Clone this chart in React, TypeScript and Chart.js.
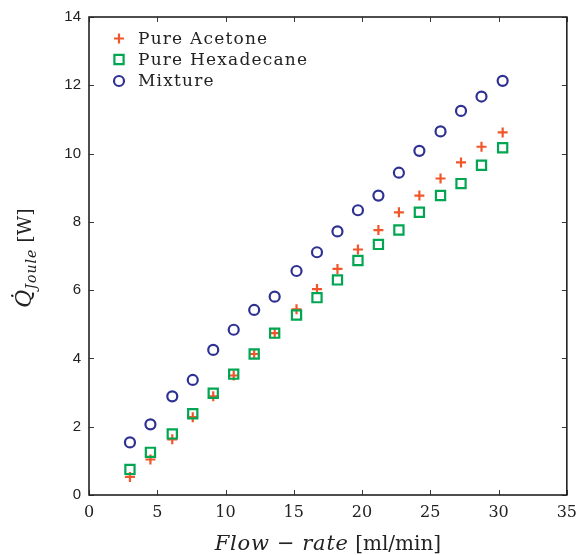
import React, { useEffect, useRef } from 'react';
import { Chart, registerables } from 'chart.js';

Chart.register(...registerables);

// ---- data ----
const flowRate = [3.0, 4.5, 6.1, 7.6, 9.1, 10.6, 12.1, 13.6, 15.2, 16.7, 18.2, 19.7, 21.2, 22.7, 24.2, 25.75, 27.25, 28.75, 30.3];
const acetone = [0.53, 1.04, 1.63, 2.28, 2.89, 3.5, 4.13, 4.74, 5.44, 6.03, 6.62, 7.19, 7.76, 8.28, 8.77, 9.27, 9.74, 10.2, 10.62];
const hexadecane = [0.75, 1.25, 1.79, 2.38, 2.98, 3.54, 4.13, 4.74, 5.27, 5.78, 6.3, 6.87, 7.34, 7.76, 8.28, 8.77, 9.12, 9.66, 10.17];
const mixture = [1.54, 2.07, 2.89, 3.37, 4.25, 4.84, 5.42, 5.81, 6.56, 7.11, 7.72, 8.34, 8.77, 9.44, 10.08, 10.65, 11.25, 11.67, 12.13];
const seriesLabels = ['Pure Acetone', 'Pure Hexadecane', 'Mixture'];
const xRange = [0, 35];
const xStep = 5;
const yRange = [0, 14];
const yStep = 2;

const ORANGE = '#F0562A';
const GREEN = '#00A651';
const NAVY = '#2E3192';

const SERIF = '"DejaVu Serif", "Liberation Serif", serif';

function toPoints(ys: number[]) {
  return ys.map((y, i) => ({ x: flowRate[i], y }));
}

function drawMarker(ctx: CanvasRenderingContext2D, style: string, x: number, y: number, r: number, color: string, lw: number) {
  ctx.save();
  ctx.strokeStyle = color;
  ctx.lineWidth = lw;
  ctx.beginPath();
  if (style === 'cross') {
    ctx.moveTo(x - r, y);
    ctx.lineTo(x + r, y);
    ctx.moveTo(x, y - r);
    ctx.lineTo(x, y + r);
  } else if (style === 'rect') {
    const s = r * Math.SQRT1_2;
    ctx.rect(x - s, y - s, 2 * s, 2 * s);
  } else {
    ctx.arc(x, y, r, 0, Math.PI * 2);
  }
  ctx.stroke();
  ctx.restore();
}

type Part = { t: string; font: string; dy?: number; ls?: number };

function richWidth(ctx: CanvasRenderingContext2D, parts: Part[]) {
  let w = 0;
  for (const p of parts) {
    ctx.font = p.font;
    (ctx as any).letterSpacing = (p.ls || 0) + 'px';
    w += ctx.measureText(p.t).width;
  }
  (ctx as any).letterSpacing = '0px';
  return w;
}

function drawRich(ctx: CanvasRenderingContext2D, parts: Part[], x: number, y: number) {
  let cx = x;
  for (const p of parts) {
    ctx.font = p.font;
    (ctx as any).letterSpacing = (p.ls || 0) + 'px';
    ctx.fillText(p.t, cx, y + (p.dy || 0));
    cx += ctx.measureText(p.t).width;
  }
  (ctx as any).letterSpacing = '0px';
}

const framePlugin = {
  id: 'matlabFrame',
  afterDraw(chart: any) {
    const { ctx, chartArea: a, scales } = chart;
    const xs = scales.x;
    const ys = scales.y;
    ctx.save();
    // inward ticks on all four sides
    ctx.strokeStyle = '#3a3a3a';
    ctx.lineWidth = 1;
    const tl = 5;
    ctx.beginPath();
    xs.ticks.forEach((t: any) => {
      const px = Math.round(xs.getPixelForValue(t.value)) + 0.5;
      ctx.moveTo(px, a.bottom);
      ctx.lineTo(px, a.bottom - tl);
      ctx.moveTo(px, a.top);
      ctx.lineTo(px, a.top + tl);
    });
    ys.ticks.forEach((t: any) => {
      const py = Math.round(ys.getPixelForValue(t.value)) + 0.5;
      ctx.moveTo(a.left, py);
      ctx.lineTo(a.left + tl, py);
      ctx.moveTo(a.right, py);
      ctx.lineTo(a.right - tl, py);
    });
    ctx.stroke();
    // frame
    ctx.strokeStyle = '#222';
    ctx.lineWidth = 1.6;
    ctx.strokeRect(a.left, a.top, a.right - a.left, a.bottom - a.top);

    // legend
    ctx.fillStyle = '#222';
    ctx.textBaseline = 'middle';
    ctx.textAlign = 'left';
    const rowsY = [38.5, 59.5, 81];
    chart.data.datasets.forEach((ds: any, i: number) => {
      const mx = a.left + 30;
      drawMarker(ctx, ds.pointStyle, mx, rowsY[i], ds.pointRadius, ds.borderColor, ds.borderWidth);
      ctx.fillStyle = '#222';
      ctx.font = '17px ' + SERIF;
      (ctx as any).letterSpacing = '1.2px';
      ctx.fillText(ds.label, a.left + 49, rowsY[i] + 1);
      (ctx as any).letterSpacing = '0px';
    });

    // x title
    ctx.textBaseline = 'alphabetic';
    const xParts: Part[] = [
      { t: 'Flow', font: 'italic 21px ' + SERIF, ls: 0.8 },
      { t: ' \u2212 ', font: '21px ' + SERIF, ls: 0.5 },
      { t: 'rate', font: 'italic 21px ' + SERIF, ls: 0.8 },
      { t: ' [ml/min]', font: '20px ' + SERIF, ls: 0 },
    ];
    const xw = richWidth(ctx, xParts);
    drawRich(ctx, xParts, (a.left + a.right) / 2 - xw / 2, 550);

    // y title (rotated)
    const yParts: Part[] = [
      { t: 'Q\u0307', font: 'italic 22px ' + SERIF },
      { t: 'Joule', font: 'italic 14px ' + SERIF, dy: 5, ls: 1 },
      { t: ' [W]', font: '19px ' + SERIF },
    ];
    const yw = richWidth(ctx, yParts);
    ctx.translate(31, (a.top + a.bottom) / 2);
    ctx.rotate(-Math.PI / 2);
    drawRich(ctx, yParts, -yw / 2 - 2, 0);
    ctx.restore();
  },
};

export default function App() {
  const canvasRef = useRef<HTMLCanvasElement | null>(null);

  useEffect(() => {
    if (!canvasRef.current) return;
    const chart = new Chart(canvasRef.current, {
      type: 'scatter',
      data: {
        datasets: [
          {
            label: seriesLabels[0],
            data: toPoints(acetone),
            pointStyle: 'cross',
            pointRadius: 5,
            borderColor: ORANGE,
            backgroundColor: 'transparent',
            borderWidth: 2.2,
            order: 3,
          },
          {
            label: seriesLabels[1],
            data: toPoints(hexadecane),
            pointStyle: 'rect',
            pointRadius: 6.5,
            borderColor: GREEN,
            backgroundColor: 'transparent',
            borderWidth: 2.2,
            order: 2,
          },
          {
            label: seriesLabels[2],
            data: toPoints(mixture),
            pointStyle: 'circle',
            pointRadius: 5,
            borderColor: NAVY,
            backgroundColor: 'transparent',
            borderWidth: 2.2,
            order: 1,
          },
        ] as any,
      },
      options: {
        animation: false,
        responsive: true,
        maintainAspectRatio: false,
        layout: { padding: { left: 0, top: 15, right: 18, bottom: 0 } },
        plugins: {
          legend: { display: false },
          tooltip: { enabled: false },
        },
        scales: {
          x: {
            type: 'linear',
            min: xRange[0],
            max: xRange[1],
            ticks: {
              stepSize: xStep,
              font: { family: SERIF, size: 16 },
              color: '#222',
              padding: 8,
              maxRotation: 0,
            },
            grid: { display: false, drawTicks: false },
            border: { display: false },
            afterFit: (s: any) => {
              s.height = 60;
            },
          },
          y: {
            type: 'linear',
            min: yRange[0],
            max: yRange[1],
            ticks: {
              stepSize: yStep,
              font: { family: '"Liberation Sans", Arial, sans-serif', size: 15 },
              color: '#222',
              padding: 8,
            },
            grid: { display: false, drawTicks: false },
            border: { display: false },
            afterFit: (s: any) => {
              s.width = 89;
            },
          },
        },
      } as any,
      plugins: [framePlugin],
    });
    return () => chart.destroy();
  }, []);

  return (
    <div style={{ position: 'fixed', left: 0, top: 0, width: 585, height: 555, background: '#fff' }}>
      <canvas ref={canvasRef} />
    </div>
  );
}
